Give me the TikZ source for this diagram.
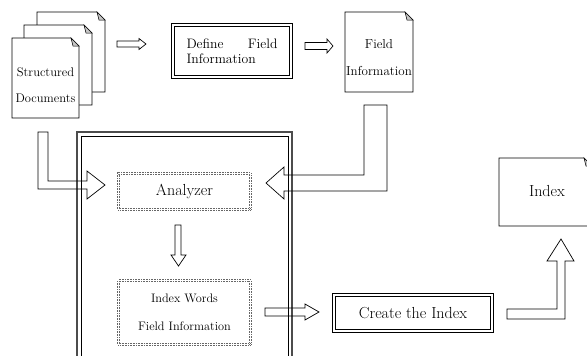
\documentclass[tikz,border=0pt]{standalone}
\usepackage{tikz}
\usetikzlibrary{positioning}

% one sheet of paper with a folded corner: x, y, width, height
\newcommand{\docsheet}[4]{%
\filldraw[fill=white, line width=0.7pt] (#1,#2) -- ++(#3-8,0) -- ++(8,8) -- (#1+#3,#2+#4) -- (#1,#2+#4) -- cycle;
\filldraw[fill=gray!45, line width=0.5pt] (#1+#3-8,#2) -- ++(2,8) -- ++(6,0) -- cycle;
}

\tikzset{
blockarrow/.style={draw=black, line width=0.7pt, line join=miter},
dblbox/.style={draw=black, line width=0.8pt, double=white, double distance=2.2pt, inner sep=0pt},
dotbox/.style={draw=gray!80!black, densely dotted, double=white, double distance=1.5pt, line width=0.6pt, inner sep=0pt},
bigtext/.style={font=\fontsize{16}{19}\selectfont},
}

\begin{document}
\begin{tikzpicture}[scale=1.000000,x=1pt,y=-1pt]
\useasboundingbox (0,0) rectangle (587,356);
\clip (0,0) rectangle (587,356);
% Drawing the frame round the analysis
\draw[gray!60!black, line width=1.2pt] (77,132) rectangle (292,370);
\draw[black, line width=0.7pt] (81,136) rectangle (288,370);
% Drawing documents
\docsheet{37}{12}{68}{80}
\docsheet{24}{25}{68}{80}
\docsheet{12}{38}{67}{80}
\node[font=\fontsize{12.5}{26}\selectfont, align=center] (structured) at (45.5,85) {Structured\\Documents};
\docsheet{345}{12}{68}{80}
\node[font=\fontsize{13}{27}\selectfont, align=center] (fieldinfo) at (379,57.5) {Field\\Information};
\docsheet{499}{158}{93}{68}
\node[bigtext] (index) at (547,191) {Index};
% Drawing boxes
\node[dblbox, minimum width=118.2pt, minimum height=52.2pt] (define) at (232,51)
  {\parbox{91pt}{\fontsize{13.7}{15}\selectfont\hyphenpenalty=10000 Define Field Information}};
\node[dotbox, bigtext, minimum width=132.3pt, minimum height=36.3pt] (analyzer) at (184.5,191.5) {Analyzer};
\node[dotbox, font=\fontsize{12.3}{28}\selectfont, align=center, minimum width=132.3pt, minimum height=64.3pt] (words) at (184.5,312.5) {Index Words\\Field Information};
\node[dblbox, bigtext, minimum width=158.2pt, minimum height=36.2pt] (create) at (413,313) {Create the Index};
% Drawing block arrows
\draw[blockarrow] (117,41) -- (139,41) -- (139,38.5) -- (146,44) -- (139,49.5) -- (139,47) -- (117,47) -- cycle;
\draw[blockarrow] (305,42.5) -- (327,42.5) -- (327,39) -- (333,46) -- (327,53) -- (327,49.5) -- (305,49.5) -- cycle;
\draw[blockarrow] (38,132) -- (48,132) -- (48,181) -- (87,181) -- (87,171) -- (105,185) -- (87,199) -- (87,189) -- (38,189) -- cycle;
\draw[blockarrow] (364,105) -- (387,105) -- (387,191) -- (284,191) -- (284,199) -- (266,183) -- (284,167) -- (284,175) -- (364,175) -- cycle;
\draw[blockarrow] (175,225) -- (181,225) -- (181,255) -- (186,255) -- (178.5,266) -- (171,255) -- (175,255) -- cycle;
\draw[blockarrow] (265,308) -- (305,308) -- (305,304) -- (319,312) -- (305,320) -- (305,316) -- (265,316) -- cycle;
\draw[blockarrow] (507,309) -- (557,309) -- (557,261) -- (547,261) -- (561,239) -- (574,261) -- (565,261) -- (565,319) -- (507,319) -- cycle;
% Done
\end{tikzpicture}
\end{document}
